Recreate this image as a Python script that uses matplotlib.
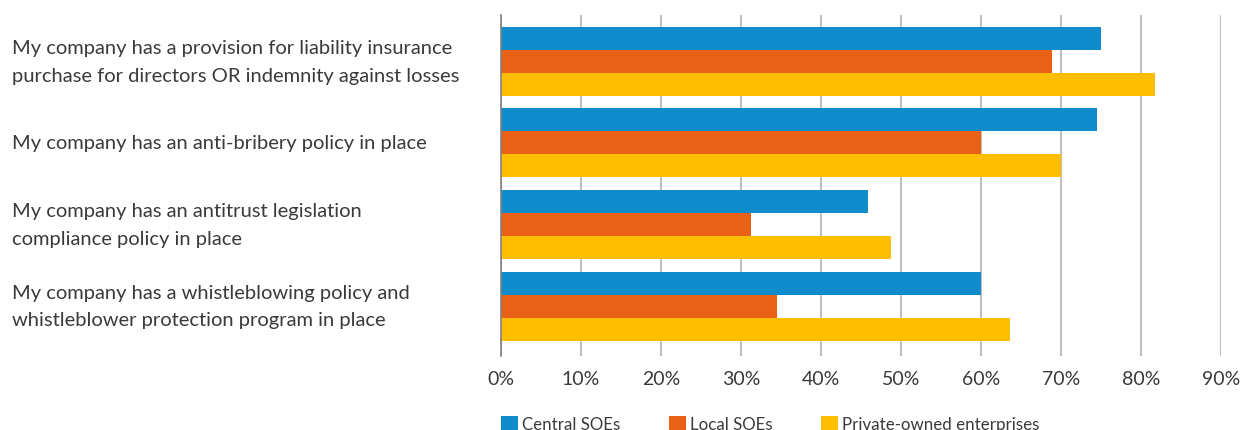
import matplotlib.pyplot as plt
import matplotlib.transforms as mtransforms
from matplotlib.patches import Patch

plt.rcParams['font.family'] = ['Lato', 'DejaVu Sans']

# Survey statements (top to bottom) and share of companies per ownership type, in %
statements = [
    "My company has a provision for liability insurance\npurchase for directors OR indemnity against losses",
    "My company has an anti-bribery policy in place",
    "My company has an antitrust legislation\ncompliance policy in place",
    "My company has a whistleblowing policy and\nwhistleblower protection program in place",
]
central_soes = [75.0, 74.5, 45.9, 60.0]
local_soes = [68.9, 60.0, 31.2, 34.5]
private_owned = [81.8, 70.0, 48.8, 63.6]

series_names = ["Central SOEs", "Local SOEs", "Private-owned enterprises"]
colors = ["#108BCB", "#E86117", "#FFBF00"]
x_ticks = list(range(0, 100, 10))

text_color = "#3A3A3A"
grid_color = "#C0C0C0"

fig = plt.figure(figsize=(12.4, 4.31), dpi=100)
ax = fig.add_axes([0.404, 0.172, 0.5807, 0.7911])

bar_h = 0.282
series = [central_soes, local_soes, private_owned]
for i, (vals, color) in enumerate(zip(series, colors)):
    ys = [k + (i - 1) * bar_h for k in range(len(statements))]
    ax.barh(ys, vals, height=bar_h, color=color, linewidth=0, zorder=3)

ax.set_xlim(0, 90)
ax.set_ylim(3.61, -0.57)
ax.set_xticks(x_ticks)
ax.set_xticklabels([f"{t}%" for t in x_ticks], fontsize=14, color=text_color)
ax.tick_params(axis='x', length=0, pad=10)
ax.set_yticks([])
ax.grid(axis='x', color=grid_color, linewidth=1.5, zorder=0)

for side in ['top', 'right', 'bottom']:
    ax.spines[side].set_visible(False)
ax.spines['left'].set_color('#808080')
ax.spines['left'].set_linewidth(1.2)
ax.spines['left'].set_zorder(4)

# Category labels, left aligned at the figure's left edge
trans = mtransforms.blended_transform_factory(fig.transFigure, ax.transData)
for k, label in enumerate(statements):
    ax.text(12 / 1240, k, label, transform=trans, ha='left', va='center',
            fontsize=14.5, color=text_color, linespacing=1.75)

handles = [Patch(facecolor=c, edgecolor='none') for c in colors]
fig.legend(handles, series_names, loc='center left',
           bbox_to_anchor=(486 / 1240, 1 - 425 / 431), ncol=3, frameon=False,
           handlelength=1.0, handleheight=1.0, handletextpad=0.25,
           columnspacing=2.85, labelcolor=text_color, prop={'size': 12.2})

fig.savefig("out.png", dpi=100)
